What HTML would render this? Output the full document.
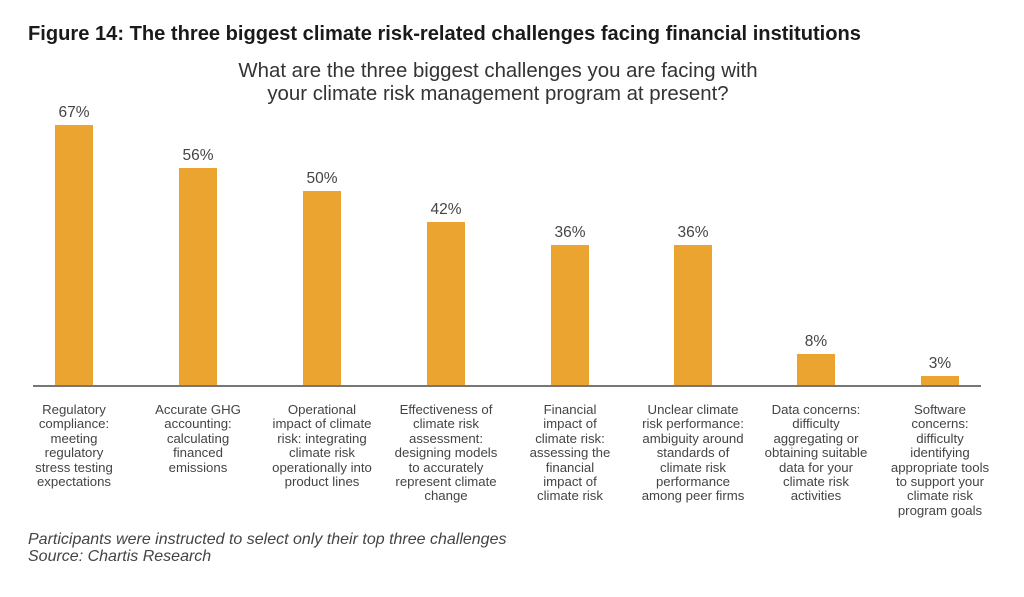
<!DOCTYPE html>
<html><head><meta charset="utf-8"><style>
body{margin:0;width:1024px;height:597px;background:#fff;position:relative;overflow:hidden;font-family:"Liberation Sans",sans-serif;}
.t{position:absolute;left:28px;top:23px;font-size:20.1px;font-weight:bold;color:#1a1a1a;white-space:nowrap;}
.s{position:absolute;left:150px;width:696px;top:60px;text-align:center;font-size:20.4px;line-height:23px;color:#333;}
.bar{position:absolute;width:38px;background:#EBA430;}
.v{position:absolute;width:80px;text-align:center;font-size:15.5px;color:#444;}
.ax{position:absolute;left:33px;top:385px;width:948px;height:2px;background:#777;}
.l{position:absolute;width:130px;top:403px;text-align:center;font-size:13.2px;line-height:14.4px;color:#444;}
.f{position:absolute;left:28px;top:531px;font-size:16px;line-height:17px;font-style:italic;color:#444;}
</style></head><body>
<div class="t">Figure 14: The three biggest climate risk-related challenges facing financial institutions</div>
<div class="s">What are the three biggest challenges you are facing with<br>your climate risk management program at present?</div>

<div class="bar" style="left:55px;top:125px;height:261px"></div>
<div class="bar" style="left:179px;top:168px;height:218px"></div>
<div class="bar" style="left:303px;top:191px;height:195px"></div>
<div class="bar" style="left:427px;top:222px;height:164px"></div>
<div class="bar" style="left:551px;top:245px;height:141px"></div>
<div class="bar" style="left:674px;top:245px;height:141px"></div>
<div class="bar" style="left:797px;top:354px;height:32px"></div>
<div class="bar" style="left:921px;top:376px;height:10px"></div>

<div class="v" style="left:34px;top:104px">67%</div>
<div class="v" style="left:158px;top:147px">56%</div>
<div class="v" style="left:282px;top:170px">50%</div>
<div class="v" style="left:406px;top:201px">42%</div>
<div class="v" style="left:530px;top:224px">36%</div>
<div class="v" style="left:653px;top:224px">36%</div>
<div class="v" style="left:776px;top:333px">8%</div>
<div class="v" style="left:900px;top:355px">3%</div>

<div class="ax"></div>

<div class="l" style="left:9px">Regulatory<br>compliance:<br>meeting<br>regulatory<br>stress testing<br>expectations</div>
<div class="l" style="left:133px">Accurate GHG<br>accounting:<br>calculating<br>financed<br>emissions</div>
<div class="l" style="left:257px">Operational<br>impact of climate<br>risk: integrating<br>climate risk<br>operationally into<br>product lines</div>
<div class="l" style="left:381px">Effectiveness of<br>climate risk<br>assessment:<br>designing models<br>to accurately<br>represent climate<br>change</div>
<div class="l" style="left:505px">Financial<br>impact of<br>climate risk:<br>assessing the<br>financial<br>impact of<br>climate risk</div>
<div class="l" style="left:628px">Unclear climate<br>risk performance:<br>ambiguity around<br>standards of<br>climate risk<br>performance<br>among peer firms</div>
<div class="l" style="left:751px">Data concerns:<br>difficulty<br>aggregating or<br>obtaining suitable<br>data for your<br>climate risk<br>activities</div>
<div class="l" style="left:875px">Software<br>concerns:<br>difficulty<br>identifying<br>appropriate tools<br>to support your<br>climate risk<br>program goals</div>

<div class="f">Participants were instructed to select only their top three challenges<br>Source: Chartis Research</div>
</body></html>
